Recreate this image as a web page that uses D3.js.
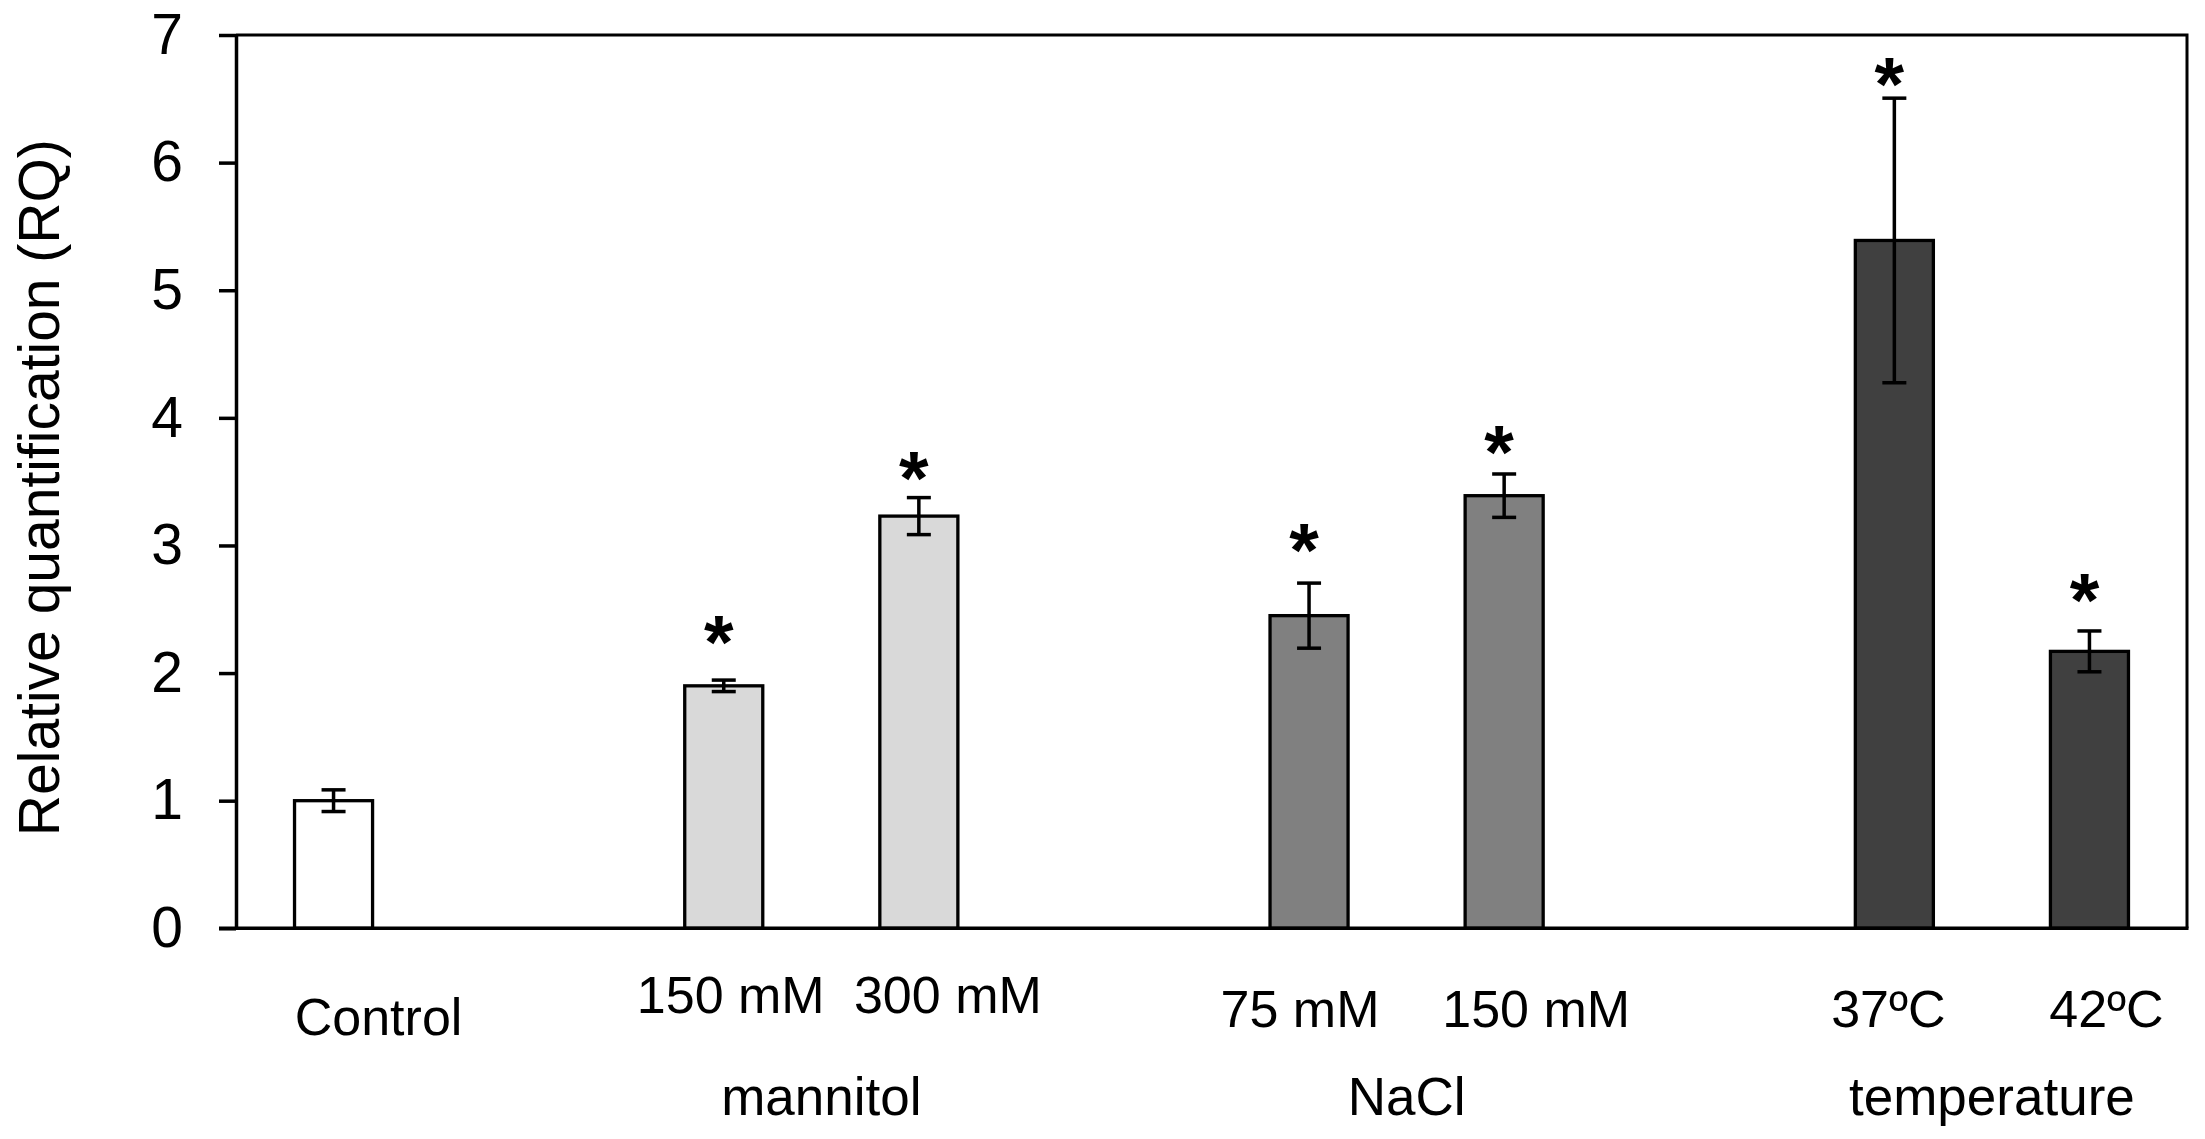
<!DOCTYPE html>
<html lang="en">
<head>
    <meta charset="UTF-8">
    <title>RQ bar chart</title>
    <script src="https://cdn.jsdelivr.net/npm/d3@7"></script>
    <style>
        * { padding: 0; margin: 0; }
        body { background: #fff; }
        svg { display: block; font-family: "Liberation Sans", Arial, sans-serif; }
    </style>
</head>
<body>
    <div class="context"></div>
    <script>
        // values
        const categories = ["Control", "150 mM", "300 mM", "75 mM", "150 mM", "37ºC", "42ºC"];
        const groups = ["", "mannitol", "mannitol", "NaCl", "NaCl", "temperature", "temperature"];
        const means = [1.00, 1.90, 3.23, 2.45, 3.39, 5.39, 2.17];
        const errors = [0.085, 0.045, 0.145, 0.255, 0.17, 1.115, 0.16];
        const significant = [false, true, true, true, true, true, true];
        const yTicks = [0, 1, 2, 3, 4, 5, 6, 7];
        const yTitle = "Relative quantification (RQ)";

        // look
        const fills = { "": "#ffffff", mannitol: "#d9d9d9", NaCl: "#808080", temperature: "#404040" };
        const labelBase = { "": 1035, mannitol: 1013, NaCl: 1027, temperature: 1027 };
        const labelDx = [45, 7, 29, -9, 32, -6, 17]; // hand placed text boxes in the original
        const starGap = [0, 44, 26, 39, 28, 20, 37];  // px between cap and star, also hand placed
        const W = 2205, H = 1139;
        const m = { left: 236, right: 2187, top: 35, bottom: 928.3 };
        const starSize = 76;

        const svg = d3.select(".context").append("svg")
            .attr("width", W)
            .attr("height", H);

        // one empty slot between treatment groups
        const slots = [];
        categories.forEach((c, i) => {
            if (i > 0 && groups[i] !== groups[i - 1]) slots.push("gap" + i);
            slots.push("bar" + i);
        });

        const x = d3.scaleBand().domain(slots).range([m.left, m.right])
            .paddingInner(0.6).paddingOuter(0.3);
        const y = d3.scaleLinear().domain([0, 7]).range([m.bottom, m.top]);

        const rows = categories.map((c, i) => ({
            i: i, label: c, group: groups[i], mean: means[i], err: errors[i], sig: significant[i],
            cx: x("bar" + i) + x.bandwidth() / 2
        }));

        // frame (top and right)
        svg.append("path")
            .attr("d", `M${m.left},${m.top}H${m.right}V${m.bottom}`)
            .attr("fill", "none")
            .attr("stroke", "#000")
            .attr("stroke-width", 3);

        // bars
        svg.selectAll("rect.bar").data(rows).enter().append("rect")
            .attr("class", "bar")
            .attr("x", d => x("bar" + d.i))
            .attr("width", x.bandwidth())
            .attr("y", d => y(d.mean))
            .attr("height", d => y(0) - y(d.mean))
            .attr("fill", d => fills[d.group])
            .attr("stroke", "#000")
            .attr("stroke-width", 3.3);

        // error bars
        const eb = svg.selectAll("g.err").data(rows).enter().append("g")
            .attr("class", "err")
            .attr("stroke", "#000")
            .attr("stroke-width", 3.5);
        eb.append("line")
            .attr("x1", d => d.cx).attr("x2", d => d.cx)
            .attr("y1", d => y(d.mean + d.err)).attr("y2", d => y(d.mean - d.err));
        eb.append("line")
            .attr("x1", d => d.cx - 12).attr("x2", d => d.cx + 12)
            .attr("y1", d => y(d.mean + d.err)).attr("y2", d => y(d.mean + d.err));
        eb.append("line")
            .attr("x1", d => d.cx - 12).attr("x2", d => d.cx + 12)
            .attr("y1", d => y(d.mean - d.err)).attr("y2", d => y(d.mean - d.err));

        // significance stars above the upper cap
        svg.selectAll("text.star").data(rows.filter(d => d.sig)).enter().append("text")
            .attr("class", "star")
            .attr("x", d => d.cx - 5)
            .attr("y", d => y(d.mean + d.err) - starGap[d.i] + 0.42 * starSize)
            .attr("text-anchor", "middle")
            .attr("font-weight", "bold")
            .attr("font-size", starSize)
            .text("*");

        // y axis
        const yAxis = svg.append("g")
            .attr("transform", `translate(${m.left},0)`)
            .call(d3.axisLeft(y).tickValues(yTicks).tickFormat(d3.format("d"))
                .tickSize(17).tickSizeOuter(0).tickPadding(36));
        yAxis.select(".domain").attr("stroke", "#000").attr("stroke-width", 3.5);
        yAxis.selectAll(".tick line").attr("stroke", "#000").attr("stroke-width", 3.5);
        yAxis.selectAll(".tick text")
            .attr("fill", "#000")
            .attr("font-size", 57)
            .attr("font-family", "Liberation Sans, Arial, sans-serif");

        // x baseline
        svg.append("line")
            .attr("x1", m.left - 17).attr("x2", m.right + 1.5)
            .attr("y1", m.bottom).attr("y2", m.bottom)
            .attr("stroke", "#000")
            .attr("stroke-width", 3.5);

        // category labels
        svg.selectAll("text.cat").data(rows).enter().append("text")
            .attr("class", "cat")
            .attr("x", d => d.cx + labelDx[d.i])
            .attr("y", d => labelBase[d.group])
            .attr("text-anchor", "middle")
            .attr("font-size", 52)
            .text(d => d.label);

        // group labels
        const groupNames = Array.from(new Set(groups.filter(g => g !== "")));
        svg.selectAll("text.grp").data(groupNames).enter().append("text")
            .attr("class", "grp")
            .attr("x", g => d3.mean(rows.filter(d => d.group === g), d => d.cx))
            .attr("y", 1115)
            .attr("text-anchor", "middle")
            .attr("font-size", 53)
            .text(g => g);

        // y title
        svg.append("text")
            .attr("transform", `translate(59,${(m.top + m.bottom) / 2 + 6}) rotate(-90)`)
            .attr("text-anchor", "middle")
            .attr("font-size", 57)
            .text(yTitle);
    </script>
</body>
</html>
